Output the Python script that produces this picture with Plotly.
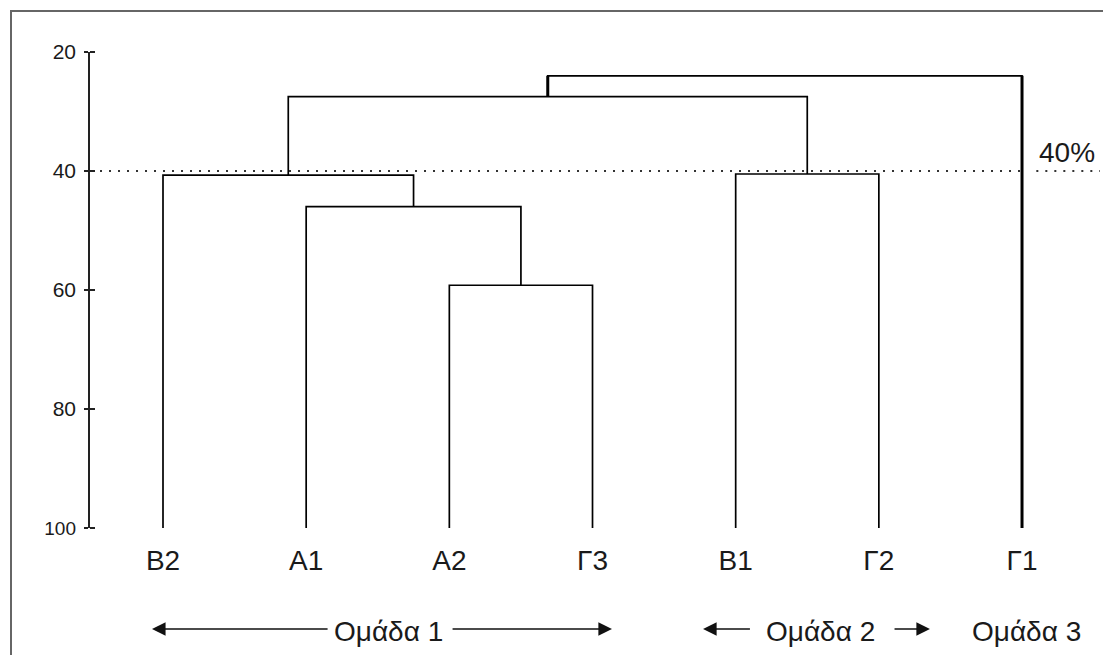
import plotly.graph_objects as go

# ---- data -------------------------------------------------------------
leaves = ["B2", "A1", "A2", "Γ3", "B1", "Γ2", "Γ1"]
leaf_level = 100
# merges (scipy-style ids: 0..6 leaves, 7.. merged clusters)
merge_left = [2, 1, 0, 4, 9, 11]
merge_right = [3, 7, 8, 5, 10, 6]
merge_height = [59.2, 46.0, 40.7, 40.5, 27.5, 24.0]
cut_level = 40
cut_label = "40%"
y_ticks = [20, 40, 60, 80, 100]
y_ticktext = ["20", "40", "60", "80", "<span style='font-size:19px'>100</span>"]
group_names = ["Ομάδα 1", "Ομάδα 2", "Ομάδα 3"]

# ---- build dendrogram coordinates --------------------------------------
pos = {i: float(i) for i in range(len(leaves))}
hgt = {i: float(leaf_level) for i in range(len(leaves))}
xs, ys = [], []
root_xs, root_ys = [], []
for k, (a, b, h) in enumerate(zip(merge_left, merge_right, merge_height)):
    nid = len(leaves) + k
    xl, xr = pos[a], pos[b]
    xs += [xl, xl, xr, xr, None]
    ys += [hgt[a], h, h, hgt[b], None]
    if k == len(merge_height) - 1:
        root_xs += [xl, xl, None, xr, xr, None]
        root_ys += [hgt[a], h, None, h, hgt[b], None]
    pos[nid] = (xl + xr) / 2
    hgt[nid] = h

FONT = "Liberation Sans, Arial, sans-serif"
TXT = "#1a1a1a"
PLOT_H = 476  # plot-area height in px (for paper coordinates below)

fig = go.Figure()
fig.add_trace(go.Scatter(x=xs, y=ys, mode="lines",
                         line=dict(color="black", width=1.7),
                         hoverinfo="skip", showlegend=False))
fig.add_trace(go.Scatter(x=root_xs, y=root_ys, mode="lines",
                         line=dict(color="black", width=3),
                         hoverinfo="skip", showlegend=False))

# dotted cut line (with a small gap around the last leaf line)
for x0, x1 in [(-0.44, 6.00), (6.10, 6.545)]:
    fig.add_shape(type="line", xref="x", yref="y", x0=x0, x1=x1,
                  y0=cut_level, y1=cut_level,
                  line=dict(color="#333333", width=2, dash="2px,7px"))
fig.add_annotation(x=6.314, y=cut_level, xref="x", yref="y", text=cut_label,
                   showarrow=False, yanchor="bottom", yshift=1,
                   font=dict(family=FONT, size=28, color=TXT))

# group labels with arrows (below the plot area -> paper y)
gy = -(631 - 528) / PLOT_H
gy_arrow = -(629 - 528) / PLOT_H
group_x = [1.575, 4.592, 6.031]
for name, gx in zip(group_names, group_x):
    fig.add_annotation(x=gx, y=gy, xref="x", yref="paper", text=name,
                       showarrow=False, yanchor="middle", xanchor="center",
                       font=dict(family=FONT, size=28, color=TXT))
arrows = [(1.160, -0.077), (2.012, 3.136), (4.110, 3.772), (5.099, 5.357)]
for tail, tip in arrows:
    fig.add_annotation(x=tip, y=gy_arrow, ax=tail, ay=0,
                       xref="x", yref="paper", axref="x", ayref="pixel",
                       text="", showarrow=True, arrowhead=2,
                       arrowsize=1.7, arrowwidth=1.6, arrowcolor="#111111")

# outer frame
fig.add_shape(type="rect", xref="paper", yref="paper",
              x0=(11 - 90) / 1010, x1=1.05, y0=-0.5, y1=1 + (52 - 11) / PLOT_H,
              line=dict(color="#666666", width=2))

fig.update_layout(
    width=1103, height=655,
    margin=dict(l=90, r=3, t=52, b=127),
    paper_bgcolor="white", plot_bgcolor="white",
    font=dict(family=FONT, color=TXT),
    xaxis=dict(range=[-0.5099, 6.5447], showgrid=False, zeroline=False,
               showline=False, tickmode="array",
               tickvals=list(range(len(leaves))), ticktext=leaves,
               ticks="", ticklabelstandoff=13,
               tickfont=dict(family=FONT, size=28, color=TXT)),
    yaxis=dict(range=[100, 20], showgrid=False, zeroline=False,
               showline=True, linecolor="#222222", linewidth=1.6,
               tickmode="array", tickvals=y_ticks, ticktext=y_ticktext,
               ticks="outside", ticklen=4, tickwidth=1.6, tickcolor="#222222",
               minor=dict(tickmode="array", tickvals=y_ticks, ticks="inside",
                          ticklen=5, tickwidth=1.6, tickcolor="#222222"),
               ticklabelstandoff=4,
               tickfont=dict(family=FONT, size=21, color=TXT)),
)

fig.write_html("out.html", config={"displayModeBar": False},
               post_script="document.body.style.margin='0';"
                           "document.body.style.overflow='hidden';")
